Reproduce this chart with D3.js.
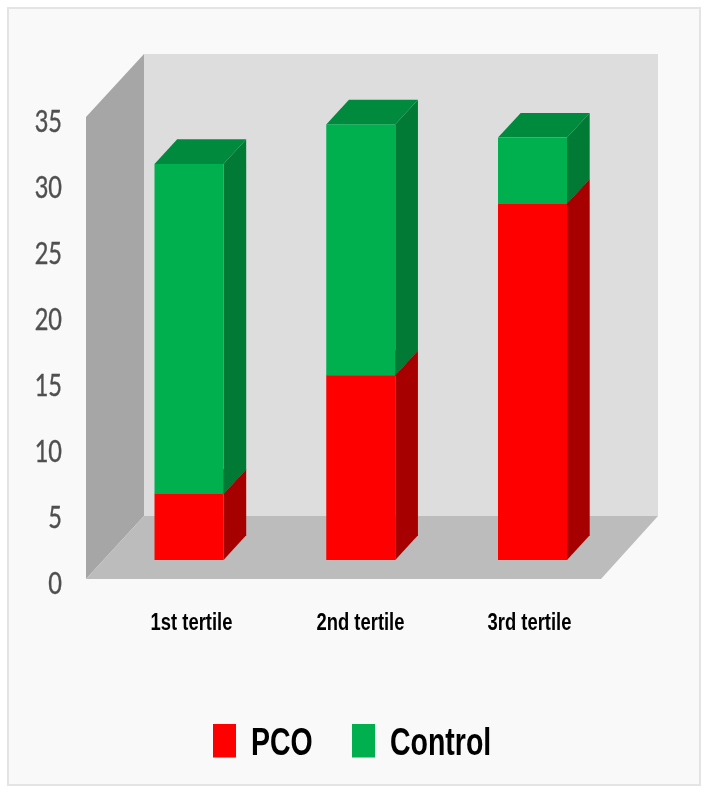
<!DOCTYPE html>
<html><head><meta charset="utf-8">
<script src="https://cdn.jsdelivr.net/npm/d3@7"></script>
<style>html,body{margin:0;padding:0;background:#fff}svg{display:block}</style>
</head><body><svg id="c" width="708" height="794"></svg>
<script>
const categories = ["1st tertile","2nd tertile","3rd tertile"];
const seriesNames = ["PCO","Control"];
const pcoValues = [5,14,27];
const controlValues = [25,19,5];
const yTicks = [0,5,10,15,20,25,30,35];
const colors = {PCO:{front:"#ff0000",side:"#a60000",top:"#c00000"},Control:{front:"#00b050",side:"#007a36",top:"#008a3d"}};

const svg = d3.select("#c");
svg.append("defs").append("filter").attr("id","soft").append("feGaussianBlur").attr("stdDeviation",0.45);
svg.append("rect").attr("x",8).attr("y",8).attr("width",692).attr("height",777)
  .attr("fill","#f9f9f9").attr("stroke","#e4e4e4").attr("stroke-width",2);
const g = svg.append("g").attr("filter","url(#soft)");

const plot = {x0:86,x1:601,y0:579,y1:117,dx:58,dy:-63};
const y = d3.scaleLinear().domain([0,35]).range([plot.y0,plot.y1]);
const x = d3.scalePoint().domain(categories).range([191,529]);
const line = d3.line();
const poly = (pts,fill)=>g.append("path").attr("d",line(pts)+"Z").attr("fill",fill);

// walls
poly([[plot.x0+plot.dx,y(35)+plot.dy],[plot.x1+plot.dx-1,y(35)+plot.dy],[plot.x1+plot.dx-1,y(0)+plot.dy],[plot.x0+plot.dx,y(0)+plot.dy]],"#dddddd");
poly([[plot.x0,y(35)],[plot.x0+plot.dx,y(35)+plot.dy],[plot.x0+plot.dx,y(0)+plot.dy],[plot.x0,y(0)]],"#a6a6a6");
poly([[plot.x0,y(0)],[plot.x1,y(0)],[plot.x1+plot.dx-1,y(0)+plot.dy],[plot.x0+plot.dx,y(0)+plot.dy]],"#bcbcbc");

// bars
const bd = {dx:22.7,dy:-24.7,inset:-19};
const barW = 69;
const stack = d3.stack().keys(seriesNames)(categories.map((c,i)=>({cat:c,PCO:pcoValues[i],Control:controlValues[i]})));
const xc = d3.scalePoint().domain(categories).range([154.5,498]);
stack.forEach(s=>{
  const col = colors[s.key];
  s.forEach(d=>{
    const xl = xc(d.data.cat), xr = xl+barW;
    const yb = y(d[0])+bd.inset, yt = y(d[1])+bd.inset;
    poly([[xr,yt],[xr+bd.dx,yt+bd.dy],[xr+bd.dx,yb+bd.dy],[xr,yb]],col.side);
    poly([[xl,yt],[xr,yt],[xr+bd.dx,yt+bd.dy],[xl+bd.dx,yt+bd.dy]],col.top);
    g.append("rect").attr("x",xl).attr("y",yt).attr("width",barW).attr("height",yb-yt).attr("fill",col.front);
  });
});

const squeeze = (sel,k)=>sel.each(function(){
  d3.select(this).attr("textLength",this.getComputedTextLength()*k).attr("lengthAdjust","spacingAndGlyphs");
});

// y axis
const ya = g.append("g").attr("transform","translate(62,4)")
  .call(d3.axisLeft(y).tickValues(yTicks).tickSize(0).tickPadding(0));
ya.select(".domain").remove();
ya.selectAll("text").attr("font-family","Lato").attr("font-size",31).attr("fill","#505050")
  .attr("stroke","#505050").attr("stroke-width",0.4)
  .attr("dy","0.35em").call(squeeze,0.76);

// x axis
const xa = g.append("g").attr("transform","translate(0,629.5)")
  .call(d3.axisBottom(x).tickSize(0).tickPadding(0));
xa.select(".domain").remove();
xa.selectAll("text").attr("font-family","Liberation Sans").attr("font-weight","bold")
  .attr("font-size",23).attr("fill","#000").attr("dy",0).call(squeeze,0.8);

// legend
const legX = d3.scalePoint().domain(seriesNames).range([213,352]);
const leg = g.selectAll(".leg").data(seriesNames).join("g").attr("class","leg");
leg.append("rect").attr("x",d=>legX(d)).attr("y",724).attr("width",23).attr("height",33.5).attr("fill",d=>colors[d].front);
leg.append("text").attr("x",d=>legX(d)+38).attr("y",754.5).text(d=>d)
  .attr("font-family","Liberation Sans").attr("font-weight","bold").attr("font-size",39).attr("fill","#000")
  .call(squeeze,0.73);
</script></body></html>
